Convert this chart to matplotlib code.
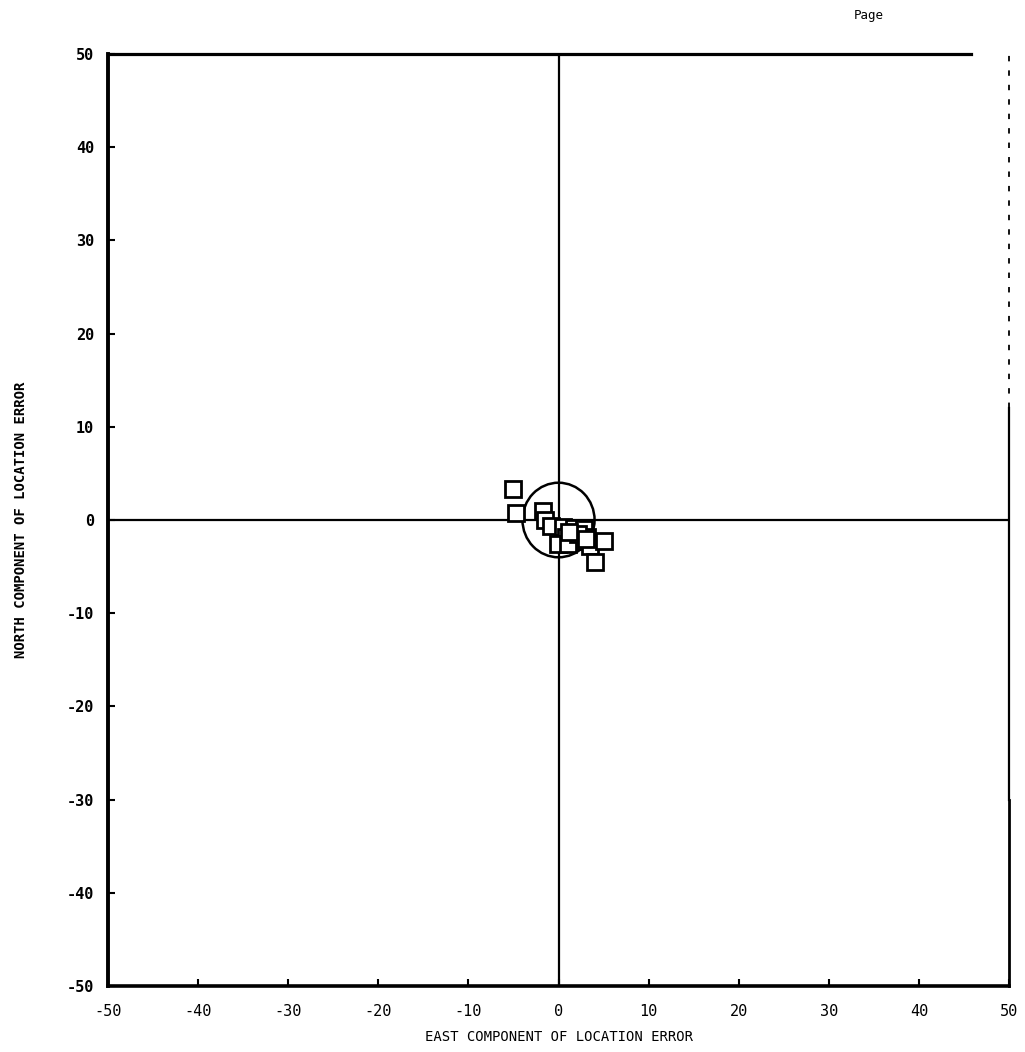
import matplotlib
matplotlib.use("Agg")
import matplotlib.pyplot as plt
from matplotlib.patches import Ellipse

# Data (east, north components of location error)
east = [-5.1, -4.7, -1.7, -1.5, -0.8, 0.5, 0.8, 1.7, 2.8, 3.2, 2.5, 3.5, -0.1, 1.1, 5.0, 4.0, 2.2, 3.0, 1.2]
north = [3.3, 0.8, 1.0, 0.0, -0.6, -0.8, -1.8, -0.9, -1.0, -1.8, -2.3, -2.8, -2.6, -2.6, -2.3, -4.5, -1.5, -2.0, -1.3]
circle_center = (0.0, 0.0)
circle_radius = 4.0
ticks = [-50, -40, -30, -20, -10, 0, 10, 20, 30, 40, 50]

fig = plt.figure(figsize=(10.25, 10.52), dpi=100)
ax = fig.add_axes([0.1054, 0.0627, 0.9844 - 0.1054, 0.9487 - 0.0627])
ax.set_xlim(-50, 50)
ax.set_ylim(-50, 50)

# axes cross
ax.axvline(0, color="black", lw=1.6)
ax.axhline(0, color="black", lw=1.6)

# circle
ax.add_patch(Ellipse(circle_center, 2 * circle_radius, 2 * circle_radius,
                     fill=False, edgecolor="black", lw=1.8, zorder=3))

# points
ax.plot(east, north, linestyle="none", marker="s", markersize=11.5,
        markerfacecolor="white", markeredgecolor="black", markeredgewidth=2.0, zorder=4)

# spines
for s in ["top", "right"]:
    ax.spines[s].set_visible(False)
ax.spines["left"].set_linewidth(2.8)
ax.spines["bottom"].set_linewidth(2.6)
ax.plot([-50, 45.8], [50, 50], color="black", lw=2.3, clip_on=False)
ax.plot([50, 50], [-50, -30], color="black", lw=2.0, clip_on=False)
ax.plot([50, 50], [-30, 12], color="black", lw=1.6, clip_on=False)
ax.plot([50, 50], [12, 50], color="black", lw=1.3, clip_on=False, linestyle=(0, (3, 5)))

ax.set_xticks(ticks)
ax.set_yticks(ticks)
ax.tick_params(direction="in", length=5, width=1.5, top=False, right=False)
ax.set_xticklabels([str(t) for t in ticks], fontsize=11, family="DejaVu Sans Mono")
ax.set_yticklabels([str(t) for t in ticks], fontsize=11, fontweight="bold", family="DejaVu Sans Mono")
ax.tick_params(axis="x", pad=13)
ax.tick_params(axis="y", pad=10)

ax.set_xlabel("EAST COMPONENT OF LOCATION ERROR", fontsize=10, family="DejaVu Sans Mono", labelpad=8)
ax.set_ylabel("NORTH COMPONENT OF LOCATION ERROR", fontsize=10, fontweight="bold",
              family="DejaVu Sans Mono", labelpad=28)

fig.text(0.848, 0.985, "Page", fontsize=9, ha="center", va="center", family="DejaVu Sans Mono")

fig.savefig("out.png", dpi=100, facecolor="white")
